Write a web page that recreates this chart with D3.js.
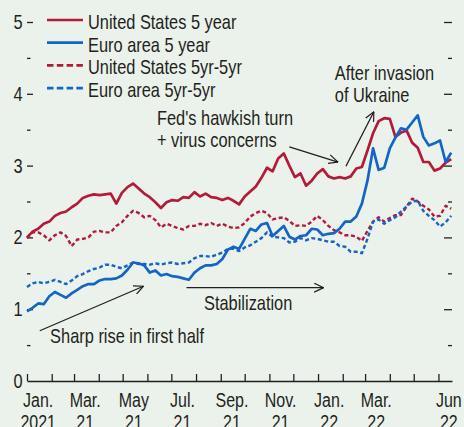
<!DOCTYPE html>
<html><head><meta charset="utf-8">
<script src="https://cdn.jsdelivr.net/npm/d3@7"></script>
<style>
html,body{margin:0;padding:0;background:#ebf2eb;}
svg{display:block;}
text{font-family:"Liberation Sans",Arial,sans-serif;fill:#231f20;}
</style></head><body>
<script>
// ---- data (weekly observations from 1 Jan 2021), percent ----
const firstObs = "2021-01-01";
const us5 = [2.00,2.08,2.12,2.19,2.22,2.30,2.34,2.36,2.42,2.47,2.55,2.58,2.60,2.59,2.60,2.61,2.47,2.62,2.70,2.75,
  2.68,2.61,2.56,2.49,2.41,2.49,2.52,2.51,2.56,2.55,2.63,2.57,2.61,2.56,2.55,2.52,2.55,2.51,2.46,2.57,
  2.64,2.71,2.83,2.97,2.92,3.10,3.17,3.00,2.84,2.89,2.72,2.79,2.89,2.95,2.85,2.82,2.84,2.82,2.85,2.96,
  2.98,3.21,3.45,3.62,3.66,3.65,3.40,3.46,3.49,3.32,3.25,3.05,3.05,2.93,2.96,3.04,3.09];
const eu5 = [0.97,1.02,1.08,1.07,1.18,1.24,1.20,1.16,1.22,1.27,1.32,1.35,1.35,1.40,1.42,1.42,1.43,1.47,1.55,1.65,
  1.64,1.61,1.51,1.54,1.47,1.49,1.46,1.45,1.43,1.41,1.51,1.57,1.61,1.61,1.63,1.70,1.83,1.87,1.84,1.98,
  2.12,2.09,2.18,2.20,2.02,2.09,2.16,2.01,1.97,2.02,2.03,2.12,2.11,2.03,2.05,2.06,2.12,2.22,2.22,2.29,
  2.47,2.79,3.24,2.94,2.97,3.24,3.39,3.52,3.50,3.60,3.70,3.40,3.28,3.31,3.35,3.05,3.18];
const us5y5y = [1.99,2.07,2.07,2.03,1.96,2.03,2.07,2.02,1.88,1.97,1.98,2.00,2.08,2.09,2.07,2.07,2.16,2.21,2.30,2.37,
  2.34,2.28,2.30,2.24,2.14,2.19,2.16,2.13,2.11,2.16,2.16,2.19,2.17,2.20,2.16,2.19,2.15,2.13,2.14,2.20,
  2.29,2.34,2.37,2.34,2.25,2.27,2.28,2.23,2.16,2.17,2.16,2.22,2.30,2.24,2.16,2.10,2.07,2.03,2.03,2.01,
  1.95,2.09,2.22,2.28,2.22,2.27,2.31,2.31,2.43,2.54,2.50,2.44,2.39,2.29,2.30,2.44,2.40];
const eu5y5y = [1.31,1.36,1.38,1.36,1.38,1.41,1.38,1.35,1.40,1.46,1.49,1.53,1.56,1.58,1.62,1.62,1.59,1.57,1.61,1.65,
  1.63,1.63,1.62,1.64,1.62,1.64,1.65,1.63,1.64,1.65,1.71,1.74,1.74,1.73,1.76,1.79,1.84,1.84,1.81,1.86,
  1.89,1.94,1.99,2.07,2.01,2.00,1.99,1.93,1.94,1.99,1.96,1.99,1.98,1.96,1.94,1.94,1.88,1.87,1.80,1.80,
  1.78,1.98,2.22,2.25,2.19,2.24,2.28,2.36,2.43,2.50,2.51,2.37,2.30,2.24,2.15,2.21,2.30];

const seriesNames = ["United States 5 year","Euro area 5 year","United States 5yr-5yr","Euro area 5yr-5yr"];
const xDomain = ["2021-01-01","2022-06-18"];
const yMajorTicks = [0,1,2,3,4,5];
const yMinorTicks = [0.5,1.5,2.5,3.5,4.5];
const monthLabels = [["2021-01-15","Jan.","2021"],["2021-03-15","Mar.","21"],["2021-05-15","May","21"],
  ["2021-07-15","Jul.","21"],["2021-09-15","Sep.","21"],["2021-11-15","Nov.","21"],
  ["2022-01-15","Jan.","22"],["2022-03-15","Mar.","22"],["2022-06-14","Jun","22"]];
// annotations: [text lines, anchor date, anchor value]
const notes = [
  [["Fed's hawkish turn","+ virus concerns"],"2021-06-13",3.57],
  [["After invasion","of Ukraine"],"2022-01-22",4.19],
  [["Stabilization"],"2021-08-11",0.99],
  [["Sharp rise in first half"],"2021-01-30",0.53]
];
const arrows = [
  ["2021-11-26",3.26,"2022-01-26",3.05],
  ["2022-02-05",2.99,"2022-03-12",3.75],
  ["2021-07-20",1.30,"2022-01-08",1.30],
  ["2021-01-17",0.70,"2021-05-27",1.32]
];

const W = 464, H = 427;
const red = "#b31b3a", blue = "#1565c4", ink = "#231f20";
const parse = d3.utcParse("%Y-%m-%d");
const dates = d3.range(us5.length).map(i => d3.utcDay.offset(parse(firstObs), 7*i));

const svg = d3.select("body").append("svg").attr("width", W).attr("height", H);
svg.append("rect").attr("width", W).attr("height", H).attr("fill", "#ebf2eb");

const x = d3.scaleUtc().domain(xDomain.map(parse)).range([27, 452]);
const y = d3.scaleLinear().domain([0, 5]).range([381, 22]);

// condensed text helper (Helvetica-Condensed look)
function label(parent, px, py, lines, size, anchor) {
  const g = parent.append("g").attr("transform", `translate(${px},${py}) scale(0.82,1)`);
  const t = g.append("text").attr("text-anchor", anchor || "start").style("font-size", size + "px");
  lines.forEach((ln, j) => t.append("tspan").attr("x", 0).attr("dy", j ? 22 : 0).text(ln));
  return t;
}

const defs = svg.append("defs");
defs.append("marker").attr("id","arr").attr("viewBox","0 0 10 10").attr("refX",9.5).attr("refY",5)
  .attr("markerWidth",10).attr("markerHeight",10).attr("markerUnits","userSpaceOnUse").attr("orient","auto")
  .append("path").attr("d","M0,0.5 L9.5,5 L0,9.5").attr("fill","none").attr("stroke",ink).attr("stroke-width",1.2);

// y axes (left labelled, right ticks only)
const gL = svg.append("g").attr("transform","translate(33,0)")
  .call(d3.axisLeft(y).tickValues(yMajorTicks.filter(d => d > 0)).tickSize(6).tickFormat(""));
const gLm = svg.append("g").attr("transform","translate(30.5,0)")
  .call(d3.axisLeft(y).tickValues(yMinorTicks).tickSize(3.5).tickFormat(""));
const gR = svg.append("g").attr("transform","translate(444,0)")
  .call(d3.axisRight(y).tickValues(yMajorTicks.filter(d => d > 0)).tickSize(8).tickFormat(""));
const gRm = svg.append("g").attr("transform","translate(448,0)")
  .call(d3.axisRight(y).tickValues(yMinorTicks).tickSize(4).tickFormat(""));
[gL,gLm,gR,gRm].forEach(g => {
  g.select(".domain").remove();
  g.selectAll(".tick line").attr("stroke", ink).attr("stroke-width", 1.3);
});
const yLab = svg.append("g");
yMajorTicks.forEach(v => label(yLab, 22.5, y(v) + 7, [String(v)], 20, "end"));

// x axis
const gX = svg.append("g").attr("transform","translate(0,381)")
  .call(d3.axisBottom(x).ticks(d3.utcMonth.every(1)).tickSize(-7).tickSizeOuter(0).tickFormat(""));
gX.select(".domain").attr("stroke", ink).attr("stroke-width", 1.4);
gX.selectAll(".tick line").attr("stroke", ink).attr("stroke-width", 1.3);
const xLab = svg.append("g");
monthLabels.forEach(d => label(xLab, x(parse(d[0])), 407, [d[1], d[2]], 19.5, "middle"));

// series lines
const line = d3.line().x((d,i) => x(dates[i])).y(d => y(d));
const specs = [
  [us5y5y, red, "4,2.6"], [eu5y5y, blue, "4,2.6"], [us5, red, null], [eu5, blue, null]
];
specs.forEach(([vals, col, dash]) => {
  svg.append("path").datum(vals).attr("d", line).attr("fill","none")
    .attr("stroke", col).attr("stroke-width", dash ? 2.4 : 2.7)
    .attr("stroke-linejoin","round").attr("stroke-dasharray", dash);
});

// legend
const legend = svg.append("g");
const legCols = [[red,null],[blue,null],[red,"6.5,3.3"],[blue,"6.5,3.3"]];
seriesNames.forEach((name, i) => {
  const ly = 20 + i * 22.7;
  legend.append("line").attr("x1",47).attr("x2",83).attr("y1",ly).attr("y2",ly)
    .attr("stroke", legCols[i][0]).attr("stroke-width", 2.7).attr("stroke-dasharray", legCols[i][1]);
  label(legend, 88, ly + 9, [name], 20, "start");
});

// annotations
const ann = svg.append("g");
notes.forEach(([lines, dt, v]) => label(ann, x(parse(dt)), y(v), lines, 20, "start"));
arrows.forEach(([d1,v1,d2,v2]) => {
  svg.append("line").attr("x1", x(parse(d1))).attr("y1", y(v1)).attr("x2", x(parse(d2))).attr("y2", y(v2))
    .attr("stroke", ink).attr("stroke-width", 1.3).attr("marker-end","url(#arr)");
});
</script>
</body></html>
